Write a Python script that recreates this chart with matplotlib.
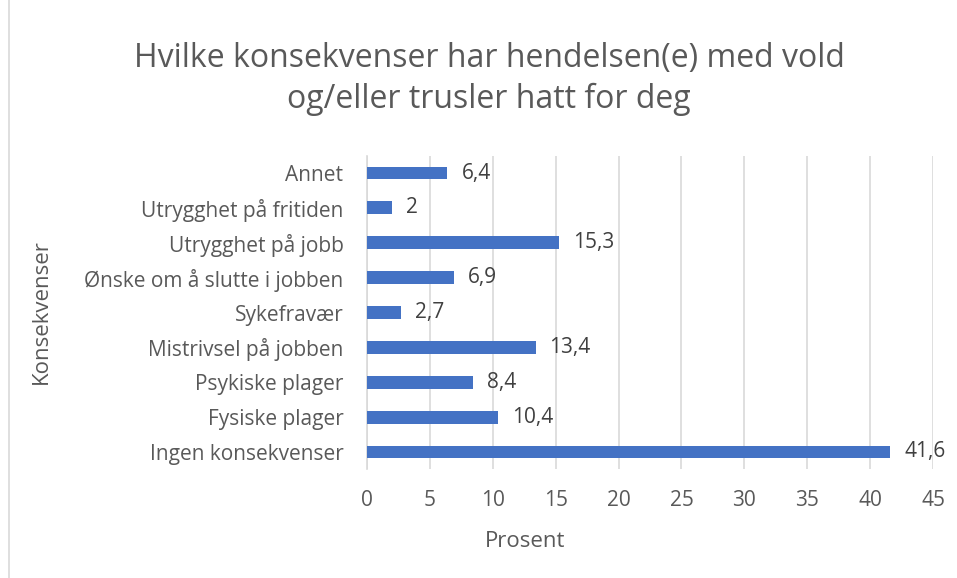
import matplotlib
matplotlib.use("Agg")
import matplotlib.pyplot as plt
from matplotlib.patches import Rectangle

categories = ["Annet", "Utrygghet på fritiden", "Utrygghet på jobb",
              "Ønske om å slutte i jobben", "Sykefravær", "Mistrivsel på jobben",
              "Psykiske plager", "Fysiske plager", "Ingen konsekvenser"]
values = [6.4, 2, 15.3, 6.9, 2.7, 13.4, 8.4, 10.4, 41.6]
value_labels = ["6,4", "2", "15,3", "6,9", "2,7", "13,4", "8,4", "10,4", "41,6"]
xticks = [0, 5, 10, 15, 20, 25, 30, 35, 40, 45]

plt.rcParams['font.family'] = ['Open Sans', 'DejaVu Sans']
txt = '#595959'
W, H = 957, 578
fig = plt.figure(figsize=(W/100, H/100), dpi=100)
fig.patches.append(Rectangle((9/W, -0.01), 1.5, 1.5, transform=fig.transFigure,
                             fill=False, edgecolor='#d9d9d9', linewidth=1.2))
ax = fig.add_axes([367/W, 1-469.4/H, (933-367)/W, (469.4-155.6)/H])
n = len(categories)
ypos = list(range(n))
ax.barh(ypos, values, height=0.37, color='#4472C4', zorder=3)
ax.set_ylim(n-0.5, -0.5)
ax.set_xlim(0, 45)
ax.set_xticks(xticks)
ax.set_xticklabels([str(t) for t in xticks])
ax.set_yticks(ypos)
ax.set_yticklabels(categories)
ax.tick_params(axis='both', length=0, colors=txt, labelsize=15)
ax.tick_params(axis='x', pad=15)
ax.tick_params(axis='y', pad=17)
ax.grid(axis='x', color='#d9d9d9', linewidth=1.2, zorder=0)
for s in ['top', 'right', 'bottom']:
    ax.spines[s].set_visible(False)
ax.spines['left'].set_color('#d9d9d9')
ax.spines['left'].set_linewidth(1.2)
for y, v, l in zip(ypos, values, value_labels):
    ax.annotate(l, (v, y), xytext=(10, 0), textcoords='offset points',
                va='center', ha='left', fontsize=15, color='#404040')
ax.set_xlabel("Prosent", fontsize=16, color=txt)
ax.set_ylabel("Konsekvenser", fontsize=16, color=txt)
ax.yaxis.set_label_coords(52/W, 1-312/H, transform=fig.transFigure)
ax.xaxis.set_label_coords(525/W, 1-531/H, transform=fig.transFigure)
fig.text(489/W, 1-79/H, "Hvilke konsekvenser har hendelsen(e) med vold\nog/eller trusler hatt for deg",
         ha='center', va='center', fontsize=23, color=txt, linespacing=1.3)
fig.savefig("out.png", dpi=100)
